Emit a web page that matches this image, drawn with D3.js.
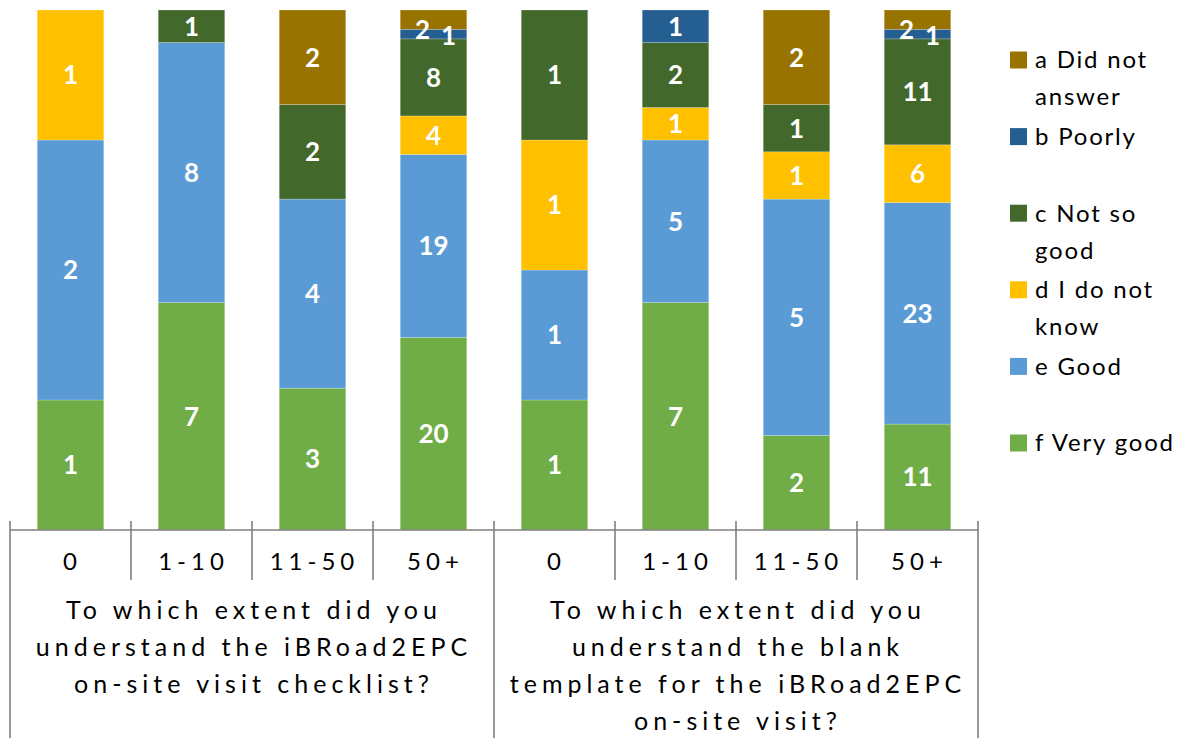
<!DOCTYPE html>
<html><head><meta charset="utf-8">
<script src="https://cdn.jsdelivr.net/npm/d3@7"></script>
<style>
html,body{margin:0;padding:0;background:#fff;}
svg{display:block;font-family:Lato,"Noto Sans",sans-serif;}
</style></head>
<body>
<svg id="chart" width="1186" height="738"></svg>
<script>
// ---- data ----
const sizeLabels = ["0", "1-10", "11-50", "50+"];
const groupLabels = [
  ["To which extent did you", "understand the iBRoad2EPC", "on-site visit checklist?"],
  ["To which extent did you", "understand the blank", "template for the iBRoad2EPC", "on-site visit?"]
];
const categories = ["g1-0", "g1-1-10", "g1-11-50", "g1-50+", "g2-0", "g2-1-10", "g2-11-50", "g2-50+"];
const seriesKeys = ["a", "b", "c", "d", "e", "f"];
const legendLabels = [["a Did not", "answer"], ["b Poorly"], ["c Not so", "good"], ["d I do not", "know"], ["e Good"], ["f Very good"]];
const seriesA = [0, 0, 2, 2, 0, 0, 2, 2];
const seriesB = [0, 0, 0, 1, 0, 1, 0, 1];
const seriesC = [0, 1, 2, 8, 1, 2, 1, 11];
const seriesD = [1, 0, 0, 4, 1, 1, 1, 6];
const seriesE = [2, 8, 4, 19, 1, 5, 5, 23];
const seriesF = [1, 7, 3, 20, 1, 7, 2, 11];
const colors = ["#997300", "#255e91", "#43682b", "#ffc000", "#5b9bd5", "#70ad47"];

(function () {
// ---- build table ----
const seriesVals = {a: seriesA, b: seriesB, c: seriesC, d: seriesD, e: seriesE, f: seriesF};
const table = categories.map((c, i) => {
  const row = {cat: c};
  seriesKeys.forEach(k => row[k] = seriesVals[k][i]);
  return row;
});
const stackOrder = seriesKeys.slice().reverse(); // f bottom ... a top
const stacked = d3.stack().keys(stackOrder).offset(d3.stackOffsetExpand)(table);
const color = d3.scaleOrdinal().domain(seriesKeys).range(colors);

const svg = d3.select("#chart");
const pLeft = 10, pRight = 978, pTop = 10, pBottom = 530;
const x = d3.scaleBand().domain(categories).range([pLeft, pRight]).paddingInner(0.45).paddingOuter(0.225);
const y = d3.scaleLinear().domain([0, 1]).range([pBottom, pTop]);

// bars
const layers = svg.append("g").selectAll("g").data(stacked).join("g")
  .attr("fill", d => color(d.key));
layers.selectAll("rect").data(d => d.map(p => ({p, key: d.key}))).join("rect")
  .attr("x", d => x(d.p.data.cat))
  .attr("y", d => y(d.p[1]))
  .attr("width", x.bandwidth())
  .attr("height", d => y(d.p[0]) - y(d.p[1]))
  .attr("stroke", "rgba(255,255,255,0.35)")
  .attr("stroke-width", 0.6);

// value labels
const labels = [];
stacked.forEach((layer, li) => {
  layer.forEach((p, ci) => {
    const v = p.data[layer.key];
    if (!v) return;
    labels.push({v, cat: p.data.cat, cx: x(p.data.cat) + x.bandwidth() / 2,
      cy: (y(p[0]) + y(p[1])) / 2, h: y(p[0]) - y(p[1]), ci, li});
  });
});
// nudge overlapping small labels (as the original spreadsheet does)
labels.forEach(l => {
  if (l.h < 14) {
    const above = labels.find(o => o.ci === l.ci && o.li === l.li + 1);
    l.dx = 15; l.dy = 2;
    if (above) { above.dx = -11; above.dy = 10; }
  }
});
svg.append("g").selectAll("text").data(labels).join("text")
  .attr("x", d => d.cx + (d.dx || 0))
  .attr("y", d => d.cy + (d.dy || 0))
  .attr("dy", "0.36em")
  .attr("text-anchor", "middle")
  .attr("fill", "#fff")
  .attr("font-weight", "bold")
  .attr("font-size", 26)
  .text(d => d.v);

// axis
const axisColor = "#7f7f7f";
const ax = svg.append("g").attr("stroke", axisColor).attr("stroke-width", 1.6);
ax.append("line").attr("x1", pLeft).attr("x2", pRight).attr("y1", pBottom).attr("y2", pBottom);
const step = x.step();
d3.range(categories.length + 1).forEach(i => {
  const bx = pLeft + i * step;
  const full = (i % sizeLabels.length === 0);
  ax.append("line").attr("x1", bx).attr("x2", bx)
    .attr("y1", pBottom - 9).attr("y2", full ? 738 : 580);
});

// category labels
svg.append("g").selectAll("text").data(categories).join("text")
  .attr("x", d => x(d) + x.bandwidth() / 2 + 2)
  .attr("y", 562)
  .attr("dy", "0.35em")
  .attr("text-anchor", "middle")
  .attr("font-size", 24)
  .attr("letter-spacing", 5)
  .attr("fill", "#000")
  .text((d, i) => sizeLabels[i % sizeLabels.length]);

// group labels
groupLabels.forEach((lines, g) => {
  const gx = pLeft + (g * sizeLabels.length + sizeLabels.length / 2) * step;
  lines.forEach((t, j) => {
    svg.append("text")
      .attr("x", gx + 2).attr("y", 610 + j * 37)
      .attr("dy", "0.35em")
      .attr("text-anchor", "middle")
      .attr("font-size", 25)
      .attr("letter-spacing", 5)
      .attr("fill", "#000")
      .text(t);
  });
});

// legend
const lg = svg.append("g");
seriesKeys.forEach((k, i) => {
  const ly = 60 + i * 76.6;
  lg.append("rect").attr("x", 1010).attr("y", ly - 8.5).attr("width", 17).attr("height", 17).attr("fill", color(k));
  legendLabels[i].forEach((t, j) => {
    lg.append("text").attr("x", 1035).attr("y", ly + j * 37).attr("dy", "0.35em")
      .attr("font-size", 24).attr("letter-spacing", 1.8).attr("fill", "#000").text(t);
  });
});
})();
</script>
</body></html>
